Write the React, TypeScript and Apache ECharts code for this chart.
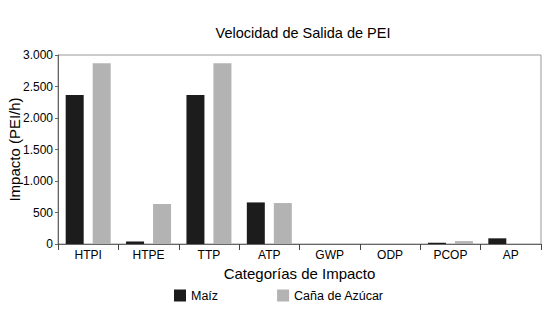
import React, { useEffect, useRef } from "react";
import * as echarts from "echarts";

const categories = ["HTPI", "HTPE", "TTP", "ATP", "GWP", "ODP", "PCOP", "AP"];
const maiz = [2365, 40, 2365, 660, 0, 0, 20, 90];
const cana = [2868, 635, 2870, 650, 0, 0, 45, 0];
const seriesNames = ["Maíz", "Caña de Azúcar"];

const FONT = "Liberation Sans, Arial, sans-serif";

export default function App() {
  const ref = useRef<HTMLDivElement>(null);
  useEffect(() => {
    const chart = echarts.init(ref.current!, undefined, { renderer: "svg" });
    chart.setOption({
      animation: false,
      backgroundColor: "#fff",
      title: {
        text: "Velocidad de Salida de PEI",
        left: 298,
        top: 20,
        textAlign: "center",
        textStyle: { fontFamily: FONT, fontSize: 14.5, fontWeight: "normal", color: "#000" },
      },
      legend: {
        left: 174,
        top: 289,
        padding: 0,
        itemWidth: 12,
        itemHeight: 12,
        itemGap: 59,
        icon: "rect",
        itemStyle: { borderWidth: 0 },
        textStyle: { fontFamily: FONT, fontSize: 12.5, color: "#000" },
        data: seriesNames,
      },
      grid: {
        left: 58,
        right: 16,
        top: 55,
        bottom: 70,
        containLabel: false,
        outerBoundsMode: "none",
        show: true,
        borderColor: "#999",
        borderWidth: 1,
      },
      xAxis: {
        type: "category",
        data: categories,
        name: "Categorías de Impacto",
        nameLocation: "middle",
        nameGap: 22,
        nameMoveOverlap: false,
        nameTextStyle: { fontFamily: FONT, fontSize: 15, color: "#000" },
        axisLine: { lineStyle: { color: "#666" } },
        axisTick: { show: true, length: 6, lineStyle: { color: "#444" } },
        axisLabel: { fontFamily: FONT, fontSize: 12, color: "#000", margin: 5 },
      },
      yAxis: {
        type: "value",
        min: 0,
        max: 3000,
        interval: 500,
        name: "Impacto (PEI/h)",
        nameLocation: "middle",
        nameGap: 36,
        nameMoveOverlap: false,
        nameTextStyle: { fontFamily: FONT, fontSize: 15, color: "#000" },
        axisLine: { show: true, lineStyle: { color: "#666" } },
        axisTick: { show: true, length: 3, lineStyle: { color: "#666" } },
        splitLine: { show: false },
        axisLabel: {
          fontFamily: FONT,
          fontSize: 12,
          color: "#000",
          margin: 5,
          formatter: (v: number) => v.toString().replace(/\B(?=(\d{3})+(?!\d))/g, "."),
        },
      },
      series: [
        {
          name: seriesNames[0],
          type: "bar",
          data: maiz,
          barWidth: 18,
          barGap: "50%",
          itemStyle: { color: "#1c1c1c" },
        },
        {
          name: seriesNames[1],
          type: "bar",
          data: cana,
          barWidth: 18,
          itemStyle: { color: "#b3b3b3" },
        },
      ],
    });
    return () => chart.dispose();
  }, []);
  return <div ref={ref} style={{ width: 557, height: 314, position: "absolute", left: 0, top: 0 }} />;
}
